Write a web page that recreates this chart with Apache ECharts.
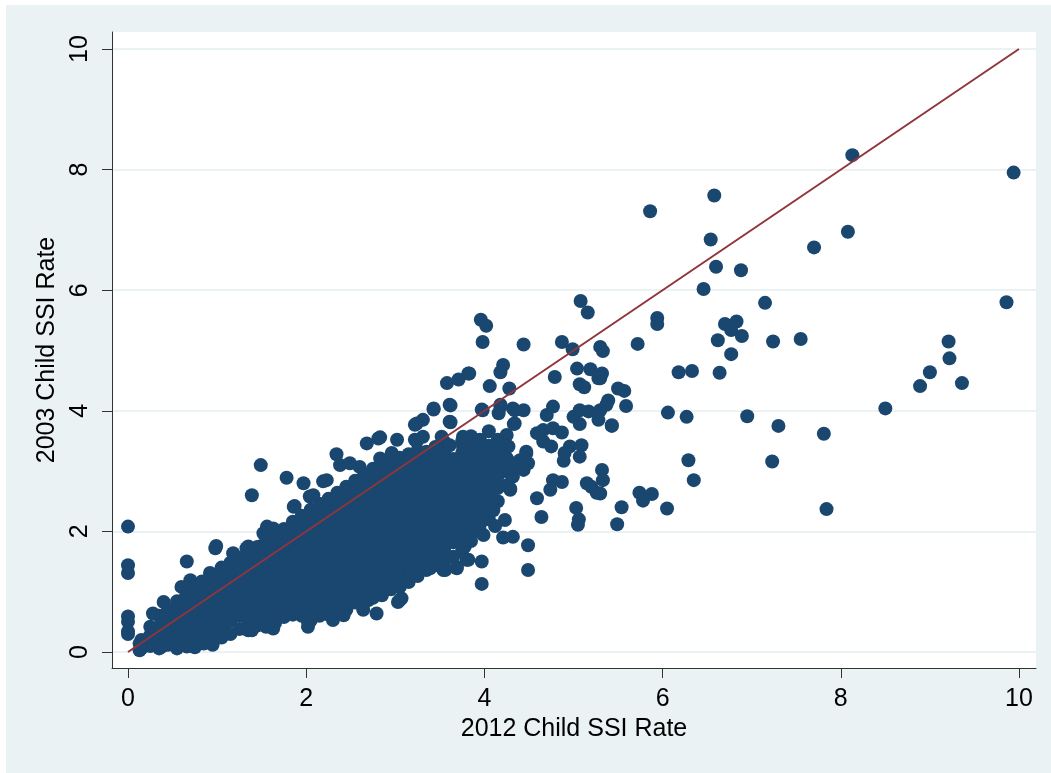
<!DOCTYPE html>
<html><head><meta charset="utf-8">
<script src="https://cdn.jsdelivr.net/npm/echarts@6/dist/echarts.min.js"></script>
<style>
html,body{margin:0;padding:0;background:#fff;width:1051px;height:773px;overflow:hidden}
#c{position:absolute;left:6px;top:5px;width:1045px;height:768px;}
</style>
</head><body><div id="c"></div>
<script>
// Tick labels
var xTicks = [0, 2, 4, 6, 8, 10];
var yTicks = [0, 2, 4, 6, 8, 10];
var xTitle = '2012 Child SSI Rate';
var yTitle = '2003 Child SSI Rate';

// Counties with a 2012 rate of 0
var zeroRatePoints = [[0,2.08],[0,1.44],[0,1.31],[0,0.59],[0,0.50],[0,0.34],[0,0.30]];

// Dense core of the cloud, read column by column: [x, [y values]]
var coreColumns = [
  [0.15,[0.06,0.2]],
  [0.25,[0.1,0.28,0.42]],
  [0.35,[0.06,0.24,0.42,0.6]],
  [0.45,[0.12,0.32,0.52,0.7]],
  [0.55,[0.06,0.26,0.46,0.66,0.84]],
  [0.65,[0.14,0.34,0.54,0.74,0.92]],
  [0.75,[0.08,0.28,0.48,0.68,0.88,1.04]],
  [0.85,[0.18,0.38,0.58,0.78,0.98,1.14]],
  [0.95,[0.12,0.3,0.5,0.7,0.9,1.1,1.28]],
  [1.05,[0.24,0.42,0.62,0.82,1.02,1.22,1.4]],
  [1.15,[0.3,0.52,0.72,0.92,1.12,1.32,1.48]],
  [1.25,[0.38,0.6,0.8,1.0,1.2,1.4,1.56]],
  [1.35,[0.36,0.52,0.72,0.92,1.12,1.32,1.52,1.64]],
  [1.45,[0.44,0.62,0.82,1.02,1.22,1.42,1.62,1.74]],
  [1.55,[0.42,0.54,0.72,0.92,1.12,1.32,1.52,1.72,1.84]],
  [1.65,[0.48,0.64,0.82,1.02,1.22,1.42,1.62,1.82,1.94]],
  [1.75,[0.58,0.74,0.92,1.12,1.32,1.52,1.72,1.92,2.04]],
  [1.85,[0.62,0.82,1.02,1.22,1.42,1.62,1.82,2.02,2.16]],
  [1.95,[0.6,0.72,0.92,1.12,1.32,1.52,1.72,1.92,2.12,2.26]],
  [2.05,[0.52,0.64,0.82,1.02,1.22,1.42,1.62,1.82,2.02,2.22,2.36]],
  [2.15,[0.6,0.74,0.92,1.12,1.32,1.52,1.72,1.92,2.12,2.32,2.46]],
  [2.25,[0.62,0.82,1.02,1.22,1.42,1.62,1.82,2.02,2.22,2.42,2.54]],
  [2.35,[0.64,0.72,0.92,1.12,1.32,1.52,1.72,1.92,2.12,2.32,2.52,2.64]],
  [2.45,[0.7,0.82,1.02,1.22,1.42,1.62,1.82,2.02,2.22,2.42,2.62,2.74]],
  [2.55,[0.82,0.92,1.12,1.32,1.52,1.72,1.92,2.12,2.32,2.52,2.72,2.84]],
  [2.65,[0.86,1.02,1.22,1.42,1.62,1.82,2.02,2.22,2.42,2.62,2.82,2.94]],
  [2.75,[0.9,1.12,1.32,1.52,1.72,1.92,2.12,2.32,2.52,2.72,2.92,3.04]],
  [2.85,[0.94,1.02,1.22,1.42,1.62,1.82,2.02,2.22,2.42,2.62,2.82,3.02,3.12]],
  [2.95,[1.04,1.12,1.32,1.52,1.72,1.92,2.12,2.32,2.52,2.72,2.92,3.12,3.2]],
  [3.05,[1.08,1.22,1.42,1.62,1.82,2.02,2.22,2.42,2.62,2.82,3.02,3.22]],
  [3.15,[1.16,1.32,1.52,1.72,1.92,2.12,2.32,2.52,2.72,2.92,3.12,3.28]],
  [3.25,[1.26,1.42,1.62,1.82,2.02,2.22,2.42,2.62,2.82,3.02,3.22,3.34]],
  [3.35,[1.36,1.52,1.72,1.92,2.12,2.32,2.52,2.72,2.92,3.12,3.32]],
  [3.45,[1.44,1.62,1.82,2.02,2.22,2.42,2.62,2.82,3.02,3.22,3.4]],
  [3.55,[1.5,1.72,1.92,2.12,2.32,2.52,2.72,2.92,3.12,3.32,3.48]],
  [3.65,[1.58,1.82,2.02,2.22,2.42,2.62,2.82,3.02,3.2]],
  [3.75,[1.68,1.92,2.12,2.32,2.52,2.72,2.92,3.12,3.3,3.5]],
  [3.85,[1.84,2.02,2.22,2.42,2.62,2.82,3.02,3.22,3.42,3.58]],
  [3.95,[2.0,2.12,2.32,2.52,2.72,2.92,3.12,3.32,3.52]],
  [4.05,[2.2,2.42,2.62,2.82,3.02,3.22,3.42,3.66]],
  [4.15,[2.5,2.72,2.92,3.12,3.32,3.52]],
  [4.25,[2.76,3.0,3.22,3.6]]
];

// Edge points of the cloud
var edgePoints = [
  [0.13,0.14],[0.28,0.64],[0.40,0.83],[0.66,1.50],[0.99,1.76],[1.35,1.75],[1.52,1.97],
  [0.60,1.08],[0.70,1.19],[0.83,1.17],[0.92,1.31],[0.98,1.72],[1.18,1.64],[1.33,1.72],
  [1.48,1.75],[1.56,2.08],[1.63,2.05],[1.86,2.41],[2.04,2.58],[2.19,2.83],
  [0.13,0.03],[0.38,0.09],[0.66,0.09],[0.85,0.14],[1.11,0.31],[1.39,0.36],[1.63,0.39],
  [2.02,0.42],[1.82,0.64],[2.30,0.53],[2.42,0.61],[2.64,0.70],[2.79,0.64],[3.03,0.83],
  [2.45,0.97],[2.30,0.75],[2.94,1.19],[1.37,0.39],[2.02,0.50],[2.60,0.92],[2.70,0.86],
  [3.07,0.89],[3.02,1.25],[3.16,1.30],[3.28,1.39],[3.39,1.39],[3.54,1.36],[3.69,1.39],
  [3.80,1.53],[2.49,0.97],[2.36,0.86],[1.41,0.53],[1.59,0.53],[1.74,0.64],[1.93,0.67],
  [2.19,0.64],[2.27,0.86],
  [3.74,1.80],[3.78,1.75],[3.82,1.53],[3.69,1.41],[3.56,1.36],[3.97,1.50],[3.97,1.13],
  [3.05,0.86],[3.05,1.25],[3.18,1.33],[3.28,1.44],[3.54,1.64],[3.54,1.91],[3.43,1.75],
  [3.99,1.94],[4.21,1.90],[4.32,1.91],[4.49,1.77],[4.49,1.36],[4.23,2.19],[4.12,2.09],
  [3.97,2.35],[4.10,2.52]
];

// Points above the cloud on the left
var upperPoints = [
  [1.39,2.60],[1.49,3.10],[1.78,2.89],[1.97,2.80],[1.87,2.42],[2.08,2.60],[2.23,2.85],
  [2.34,3.28],[2.38,3.10],[2.49,3.13],[2.60,3.07],[2.68,3.46],[2.83,3.56],[2.81,3.54],
  [2.83,3.21],[3.02,3.52],[2.96,3.30],[3.22,3.52],[3.22,3.77],[3.31,3.85],[3.43,4.02],
  [3.61,4.10],[3.61,3.82],[3.58,4.46],[3.71,4.52],[3.82,4.62],[3.76,3.41],[3.46,3.35],
  [3.31,3.02],[3.24,3.49],[3.31,3.57],[3.52,3.57],[3.61,3.43],[3.76,3.57],[3.24,3.79],
  [3.62,3.81]
];

// Scattered points in the middle range
var middlePoints = [
  [3.96,5.51],[4.02,5.41],[3.98,5.14],[4.44,5.10],[4.87,5.14],[4.99,5.02],[5.08,5.82],[5.16,5.63],
  [4.21,4.76],[4.18,4.64],[3.83,4.62],[4.06,4.41],[4.28,4.37],[5.04,4.70],[5.19,4.69],
  [5.28,4.54],[4.79,4.56],[5.07,4.44],[5.12,4.39],[3.43,4.04],[3.62,4.09],[3.97,4.02],
  [4.18,4.10],[4.32,4.04],[4.44,4.01],[4.33,3.78],[4.70,3.93],[4.77,4.07],[5.00,3.90],
  [5.07,4.01],[5.17,3.99],[5.07,3.78],[5.30,4.01],[5.37,4.10],[5.28,3.85],[5.43,3.75],
  [4.59,3.63],[4.66,3.68],[4.77,3.71],[4.87,3.64],[4.66,3.49],[4.75,3.41],[4.90,3.30],
  [4.96,3.41],[5.09,3.43],[5.07,3.24],[4.89,3.17],[5.15,2.80],[5.26,2.64],[5.20,2.74],
  [4.77,2.85],[4.87,2.82],[4.74,2.69],[4.59,2.55],[4.64,2.24],[5.03,2.39],[5.06,2.20],
  [5.05,2.11],[4.47,3.29],[4.49,3.13],[4.40,3.18],[4.44,3.02],[4.32,3.13],[4.27,2.99],
  [4.31,2.91],[4.29,2.69],[4.18,3.13],[4.14,2.99],[4.18,3.41],[4.27,3.41],[4.14,3.46],
  [4.25,3.42],[4.12,3.13],[4.25,3.07],[4.32,2.91],[4.29,2.71],[4.47,3.32],[4.42,3.05],
  [4.18,4.07],[4.34,4.01],[4.16,3.96],[4.34,3.79],[3.98,4.01],[4.10,2.35]
];

// Points at the high end
var highPoints = [
  [8.13,8.24],[9.94,7.95],[5.86,7.31],[6.58,7.57],[6.54,6.84],[8.08,6.97],[7.70,6.71],
  [6.60,6.39],[6.88,6.33],[6.46,6.02],[7.15,5.79],[9.86,5.80],[5.94,5.54],[5.94,5.44],
  [5.72,5.11],[6.70,5.44],[6.83,5.48],[6.77,5.34],[6.89,5.24],[6.62,5.17],[7.24,5.15],
  [7.55,5.19],[6.77,4.94],[6.18,4.64],[6.33,4.66],[6.64,4.63],[9.21,5.15],[9.22,4.87],
  [9.00,4.64],[8.89,4.41],[9.36,4.46],[8.50,4.04],[6.06,3.97],[6.27,3.90],[6.95,3.91],
  [7.30,3.75],[7.81,3.62],[6.29,3.18],[7.23,3.16],[6.35,2.85],[7.84,2.37],[6.05,2.38],
  [5.74,2.64],[5.88,2.62],[5.78,2.51],[5.54,2.40],[5.49,2.12],[5.50,4.37],[5.57,4.33],
  [5.39,4.17],[5.59,4.08],[5.30,5.06],[5.33,4.99],[5.32,4.62],[5.30,4.54],[5.43,3.76],
  [5.32,3.02],[5.33,2.85],[5.30,2.63]
];

// Reference line y = x
var equalityLine = [[0, 0], [10, 10]];

var scatterData = [];
zeroRatePoints.forEach(function (p) { scatterData.push(p); });
coreColumns.forEach(function (col) {
  col[1].forEach(function (y) { scatterData.push([col[0], y]); });
});
[edgePoints, upperPoints, middlePoints, highPoints].forEach(function (arr) {
  arr.forEach(function (p) { scatterData.push(p); });
});

var font = "'Liberation Sans', Arial, Helvetica, sans-serif";
var chart = echarts.init(document.getElementById('c'), null, { renderer: 'canvas' });
chart.setOption({
  animation: false,
  backgroundColor: '#EAF2F3',
  grid: {
    left: 106, top: 27, right: 15, bottom: 105,
    show: true, backgroundColor: '#ffffff', borderWidth: 0
  },
  xAxis: {
    type: 'value', min: -0.1796, max: 10.191,
    name: xTitle, nameLocation: 'middle', nameGap: 45,
    nameTextStyle: { fontSize: 25, color: '#000', fontFamily: font },
    axisLine: { show: true, onZero: false, lineStyle: { color: '#333', width: 1 } },
    axisTick: { show: true, length: 10, customValues: xTicks, lineStyle: { color: '#333', width: 1 } },
    axisLabel: { customValues: xTicks, fontSize: 25, color: '#000', margin: 19, fontFamily: font },
    splitLine: { show: false }
  },
  yAxis: {
    type: 'value', min: -0.265, max: 10.282,
    name: yTitle, nameLocation: 'middle', nameGap: 47, nameRotate: 90,
    nameTextStyle: { fontSize: 25, color: '#000', fontFamily: font },
    axisLine: { show: true, onZero: false, lineStyle: { color: '#333', width: 1 } },
    axisTick: { show: true, length: 10, customValues: yTicks, lineStyle: { color: '#333', width: 1 } },
    axisLabel: { customValues: yTicks, rotate: 90, fontSize: 25, color: '#000', margin: 19, fontFamily: font },
    splitLine: { show: true, lineStyle: { color: '#EAF2F3', width: 2 } }
  },
  series: [
    {
      type: 'scatter', data: scatterData, symbol: 'circle', symbolSize: 14,
      itemStyle: { color: '#1A476F', opacity: 1 }, z: 2, silent: true
    },
    {
      type: 'line', data: equalityLine, symbol: 'none', z: 3, silent: true,
      lineStyle: { color: '#90353B', width: 2 }
    }
  ]
});
</script>
</body></html>
